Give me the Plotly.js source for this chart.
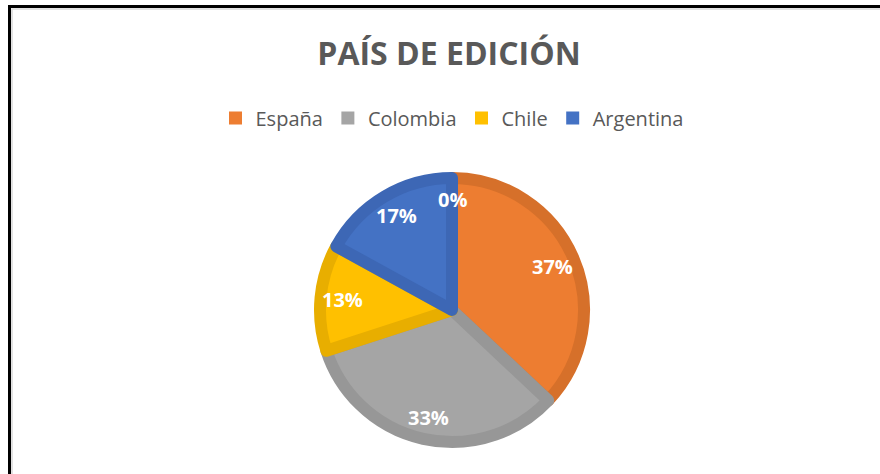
<!DOCTYPE html>
<html>
<head>
<meta charset="utf-8">
<script src="https://cdn.plot.ly/plotly-3.0.1.min.js"></script>
<style>html,body{margin:0;padding:0;background:#fff;}#chart{width:880px;height:474px;}</style>
</head>
<body>
<div id="chart"></div>
<script>
const categories = ["España", "Colombia", "Chile", "Argentina"];
const shares = [37, 33, 13, 17];
const extraShares = [0];          // unnamed extra category labelled "0%"
const fillColors = ["#ED7D31", "#A5A5A5", "#FFC000", "#4472C4"];
const edgeColors = ["#D6702A", "#979797", "#E8AE00", "#3D67B5"];

const W = 880, H = 474;
const cx = 452, cy = 310, r = 132;
const labelR = 110;

const total = shares.reduce((a, b) => a + b, 0) + extraShares.reduce((a, b) => a + b, 0);
const allShares = shares.concat(extraShares);

const pie = {
  type: "pie",
  labels: categories,
  values: shares,
  sort: false,
  direction: "clockwise",
  rotation: 0,
  marker: { colors: fillColors, line: { color: edgeColors, width: 12 } },
  textinfo: "none",
  hoverinfo: "none",
  showlegend: false,
  domain: { x: [(cx - r) / W, (cx + r) / W], y: [1 - (cy + r) / H, 1 - (cy - r) / H] }
};

// legend entries (square markers, like the reference)
const legendTraces = categories.map((c, i) => ({
  type: "scatter", mode: "markers", x: [null], y: [null], name: c,
  marker: { symbol: "square", size: 13, color: fillColors[i] },
  showlegend: true, hoverinfo: "none"
}));

// percentage labels at each slice's mid angle (clockwise from 12 o'clock)
const annotations = [];
let cum = 0;
allShares.forEach(v => {
  const mid = (cum + v / 2) / total * 2 * Math.PI;
  cum += v;
  const px = cx + labelR * Math.sin(mid);
  const py = cy - labelR * Math.cos(mid);
  annotations.push({
    text: Math.round(v / total * 100) + "%",
    xref: "paper", yref: "paper", x: px / W, y: 1 - py / H,
    xanchor: "center", yanchor: "middle", showarrow: false,
    font: { family: "Open Sans", size: 20, color: "#ffffff", weight: "bold" }
  });
});

const layout = {
  width: W, height: H,
  margin: { l: 0, r: 0, t: 0, b: 0 },
  paper_bgcolor: "#ffffff",
  plot_bgcolor: "#ffffff",
  xaxis: { visible: false }, yaxis: { visible: false },
  title: {
    text: "<b>PAÍS DE EDICIÓN</b>",
    font: { family: "Open Sans", size: 32, color: "#595959" },
    x: 449 / W, xanchor: "center",
    y: 1 - 54 / H, yanchor: "middle", yref: "paper"
  },
  showlegend: true,
  legend: {
    orientation: "h",
    x: 452 / W, xanchor: "center",
    y: 1 - 118 / H, yanchor: "middle",
    font: { family: "Open Sans", size: 20, color: "#595959" },
    itemwidth: 30,
    traceorder: "normal",
    bgcolor: "rgba(0,0,0,0)"
  },
  annotations: annotations,
  shapes: [
    { type: "rect", xref: "paper", yref: "paper", x0: 9.5 / W, x1: 1.2, y0: -0.2, y1: 1 - 6.5 / H,
      line: { color: "#000000", width: 3 }, fillcolor: "rgba(0,0,0,0)", layer: "above" },
    { type: "rect", xref: "paper", yref: "paper", x0: 12 / W, x1: 1.2, y0: -0.2, y1: 1 - 9 / H,
      line: { color: "#d9d9d9", width: 1.5 }, fillcolor: "rgba(0,0,0,0)", layer: "above" }
  ]
};

Plotly.newPlot("chart", [pie].concat(legendTraces), layout, { displayModeBar: false, staticPlot: true });
</script>
</body>
</html>
